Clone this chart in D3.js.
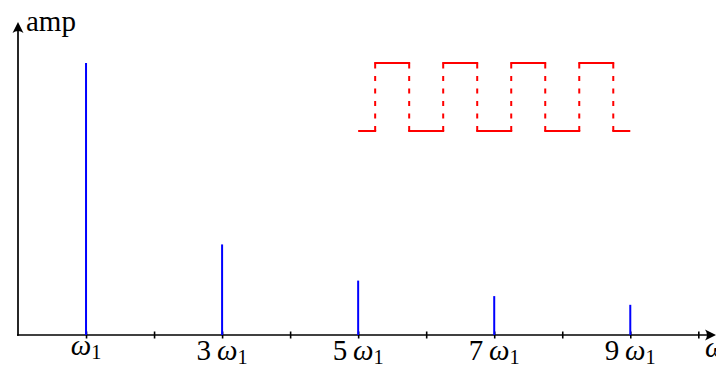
<!DOCTYPE html>
<html><head><meta charset="utf-8">
<script src="https://cdn.jsdelivr.net/npm/d3@7"></script>
<style>html,body{margin:0;padding:0;background:#fff;} svg{display:block;}</style>
</head><body><svg id="chart" width="716" height="369"></svg>
<script>
// Line spectrum of a square wave: odd harmonics with falling amplitude
const harmonics = [1, 3, 5, 7, 9];
const amplitudes = [1.0, 0.333, 0.2, 0.143, 0.111];
const tickValues = [1, 2, 3, 4, 5, 6, 7, 8, 9, 10];
const tickCoefficients = ["", "3", "5", "7", "9"];
const xAxisLabel = "ω";
const yAxisLabel = "amp";
// Square-wave sketch: start/end, switching instants, and the two levels
const waveStart = 5, waveEnd = 9;
const waveEdges = [5.25, 5.75, 6.25, 6.75, 7.25, 7.75, 8.25, 8.75];
const waveLow = 0.75, waveHigh = 1.0;

const svg = d3.select("#chart");
const font = "'Liberation Serif', 'DejaVu Serif', serif";
const fs = 29;

const x = d3.scaleLinear().domain([0, 10.26]).range([18, 716]);
const y = d3.scaleLinear().domain([0, 1]).range([335, 63]);
const y0 = y(0);
const yTop = 22;

// arrowhead (tip at origin, pointing +x)
const arrowPath = "M0,0 L-11,-5.5 Q-7,0 -11,5.5 Z";

// x axis line with arrow
svg.append("line").attr("x1", x(0) - 1).attr("x2", x.range()[1] - 3)
  .attr("y1", y0).attr("y2", y0).attr("stroke", "#000").attr("stroke-width", 1.7);
svg.append("path").attr("d", arrowPath)
  .attr("transform", `translate(${x.range()[1]},${y0})`).attr("fill", "#000");

// y axis line with arrow
svg.append("line").attr("x1", x(0)).attr("x2", x(0))
  .attr("y1", y0 + 0.85).attr("y2", yTop + 3).attr("stroke", "#000").attr("stroke-width", 1.7);
svg.append("path").attr("d", arrowPath)
  .attr("transform", `translate(${x(0)},${yTop}) rotate(-90)`).attr("fill", "#000");

// tick marks crossing the axis
const axis = d3.axisBottom(x).tickValues(tickValues).tickSize(3).tickFormat("");
const gAxis = svg.append("g").attr("transform", `translate(0,${y0})`).call(axis);
gAxis.select(".domain").remove();
gAxis.selectAll(".tick line").attr("y1", -3.5).attr("y2", 3.5)
  .attr("stroke", "#000").attr("stroke-width", 1.6);

// spectral lines
svg.append("g").selectAll("line").data(harmonics).join("line")
  .attr("x1", d => x(d)).attr("x2", d => x(d))
  .attr("y1", y0).attr("y2", (d, i) => y(amplitudes[i]))
  .attr("stroke", "#0000ff").attr("stroke-width", 2);

// harmonic labels: "n ω₁", hung from the top of their box
const labels = svg.append("g").selectAll("text").data(harmonics).join("text")
  .attr("x", d => x(d))
  .attr("y", (d, i) => tickCoefficients[i] === "" ? 355 : 360)
  .attr("text-anchor", "middle")
  .attr("font-family", font).attr("font-size", fs).attr("fill", "#000");
labels.each(function (d, i) {
  const t = d3.select(this);
  if (tickCoefficients[i] !== "") {
    t.append("tspan").text(tickCoefficients[i] + "\u2009");
  }
  t.append("tspan").attr("font-style", "italic").text("ω");
  t.append("tspan").attr("font-size", fs * 0.7).attr("dy", 4).text("1");
});

// axis titles
svg.append("text").attr("x", 705).attr("y", 357)
  .attr("font-family", font).attr("font-size", fs).attr("font-style", "italic")
  .text(xAxisLabel);
svg.append("text").attr("x", 26).attr("y", 31)
  .attr("font-family", font).attr("font-size", fs)
  .text(yAxisLabel);

// square wave: solid levels, dashed transitions
const bounds = [waveStart, ...waveEdges, waveEnd];
const levels = d3.range(bounds.length - 1).map(i => (i % 2 === 0 ? waveLow : waveHigh));
const gWave = svg.append("g").attr("stroke", "#ff0000").attr("stroke-width", 2).attr("fill", "none");
gWave.selectAll("line.level").data(levels).join("line").attr("class", "level")
  .attr("x1", (d, i) => x(bounds[i]) - (i > 0 ? 1 : 0))
  .attr("x2", (d, i) => x(bounds[i + 1]) + (i < levels.length - 1 ? 1 : 0))
  .attr("y1", d => y(d)).attr("y2", d => y(d));
gWave.selectAll("line.edge").data(waveEdges).join("line").attr("class", "edge")
  .attr("x1", d => x(d)).attr("x2", d => x(d))
  .attr("y1", y(waveLow)).attr("y2", y(waveHigh))
  .attr("stroke-dasharray", "5 7.5");
</script>
</body></html>
